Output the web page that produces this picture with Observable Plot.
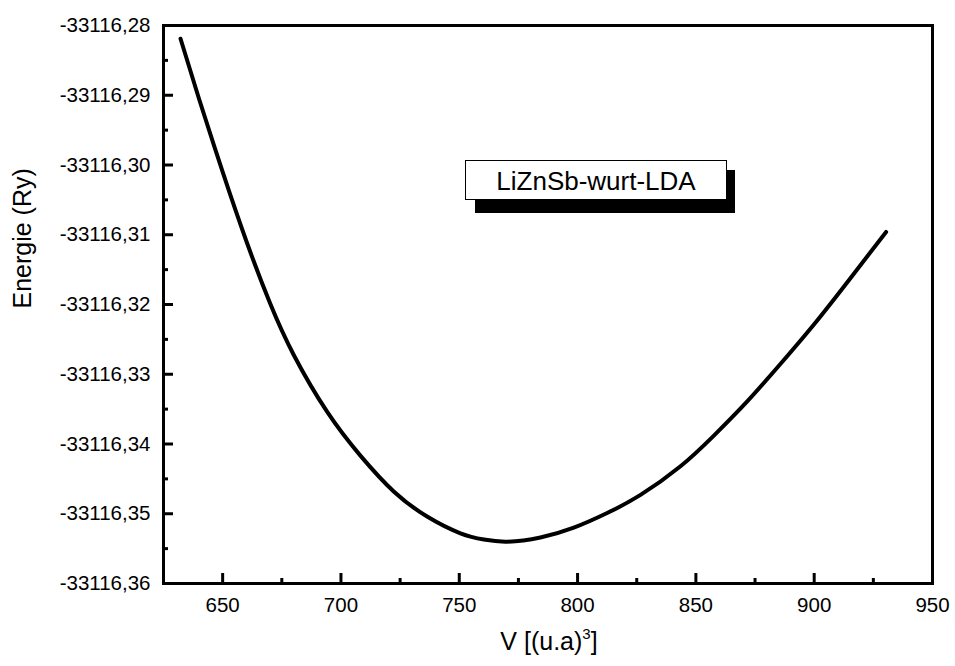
<!DOCTYPE html>
<html><head><meta charset="utf-8">
<script src="https://cdn.jsdelivr.net/npm/d3@7"></script>
<script src="https://cdn.jsdelivr.net/npm/@observablehq/plot@0.6"></script>
<style>
body{margin:0;background:#fff}
svg{font-family:"Liberation Sans",Arial,sans-serif}
</style>
</head><body><div id="chart"></div>
<script>
// Data
const volume = [632.2, 640, 650, 660, 670, 680, 694.2, 708.3, 722.3, 736.4, 750.5, 760.4, 770.3, 784.3, 798.4, 812.5, 826.6, 843.5, 857.6, 871.7, 885.8, 899.8, 914.0, 930.4];
const energy = [-33116.2819, -33116.2905, -33116.3010, -33116.3109, -33116.3198, -33116.3272, -33116.3354, -33116.3417, -33116.3468, -33116.3504, -33116.3528, -33116.3537, -33116.3540, -33116.3534, -33116.3520, -33116.3499, -33116.3473, -33116.3432, -33116.3388, -33116.3339, -33116.3285, -33116.3229, -33116.3168, -33116.3096];
const xTicks = [650, 700, 750, 800, 850, 900, 950];
const xMinor = [675, 725, 775, 825, 875, 925];
const yTicks = [-33116.36, -33116.35, -33116.34, -33116.33, -33116.32, -33116.31, -33116.30, -33116.29, -33116.28];
const yMinor = [-33116.355, -33116.345, -33116.335, -33116.325, -33116.315, -33116.305, -33116.295, -33116.285];
const xDomain = [625, 950];
const yDomain = [-33116.36, -33116.28];
const legendLabel = "LiZnSb-wurt-LDA";
const xTitle = "V [(u.a)";
const xTitleSup = "3";
const xTitleEnd = "]";
const yTitle = "Energie (Ry)";

const W = 955, H = 666, mL = 163, mR = 23, mT = 25, mB = 83;
const fh = H - mT - mB, fw = W - mL - mR;
const data = volume.map((v, i) => ({v, e: energy[i]}));
const fmtY = d => d.toFixed(2).replace(".", ",");

const plot = Plot.plot({
  width: W, height: H,
  marginLeft: mL, marginRight: mR, marginTop: mT, marginBottom: mB,
  style: {fontFamily: '"Liberation Sans", Arial, sans-serif', fontSize: "20.5px", color: "#000", background: "#fff"},
  x: {domain: xDomain},
  y: {domain: yDomain},
  marks: [
    Plot.axisX({ticks: xTicks, tickSize: 0, tickPadding: 14, fontSize: 20.5, label: null, tickFormat: d => String(d)}),
    Plot.axisY({ticks: yTicks, tickSize: 0, tickPadding: 13, fontSize: 20.5, label: null, tickFormat: fmtY}),
    Plot.tickX(xTicks, {x: d => d, insetTop: fh - 10, strokeWidth: 3, stroke: "#000"}),
    Plot.tickX(xMinor, {x: d => d, insetTop: fh - 5, strokeWidth: 3, stroke: "#000"}),
    Plot.tickY(yTicks, {y: d => d, insetRight: fw - 10, strokeWidth: 3, stroke: "#000"}),
    Plot.tickY(yMinor, {y: d => d, insetRight: fw - 5, strokeWidth: 3, stroke: "#000"}),
    Plot.line(data, {x: "v", y: "e", curve: "natural", stroke: "#000", strokeWidth: 4}),
    Plot.frame({stroke: "#000", strokeWidth: 3}),
    Plot.text([yTitle], {frameAnchor: "left", dx: -141, dy: 4, rotate: -90, fontSize: 25, fill: "#000"})
  ]
});

const svg = d3.select(plot);
// legend box with drop shadow
const lg = svg.append("g");
lg.append("rect").attr("x", 475).attr("y", 170).attr("width", 260).attr("height", 43).attr("fill", "#000");
lg.append("rect").attr("x", 465.5).attr("y", 160.5).attr("width", 261).attr("height", 39)
  .attr("fill", "#fff").attr("stroke", "#000").attr("stroke-width", 1);
lg.append("text").attr("x", 596).attr("y", 190).attr("text-anchor", "middle")
  .attr("font-size", 26).attr("fill", "#000").text(legendLabel);
// x axis title with superscript
const xt = svg.append("text").attr("x", 549).attr("y", 650).attr("text-anchor", "middle")
  .attr("font-size", 25).attr("fill", "#000");
xt.append("tspan").text(xTitle);
xt.append("tspan").attr("dy", -11).attr("font-size", 15).text(xTitleSup);
xt.append("tspan").attr("dy", 11).text(xTitleEnd);

document.getElementById("chart").appendChild(plot);
</script>
</body></html>
